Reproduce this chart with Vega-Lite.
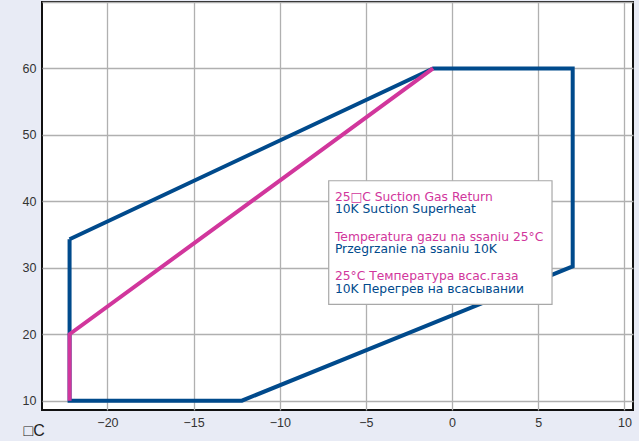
{
  "$schema": "https://vega.github.io/schema/vega-lite/v6.json",
  "width": 591,
  "height": 408,
  "autosize": "none",
  "padding": {"left": 42, "top": 2, "right": 6, "bottom": 31},
  "background": "#e8ebf5",
  "config": {
    "view": {"stroke": "#111111", "strokeWidth": 2, "fill": "white"},
    "axis": {
      "labelFont": "Liberation Sans",
      "labelFontSize": 12.5,
      "labelColor": "#333333",
      "gridColor": "#b0b0b0",
      "gridWidth": 1.3,
      "gridOpacity": 1,
      "domain": false,
      "ticks": false,
      "labelPadding": 6
    }
  },
  "datasets": {
    "envelope": [
      {"series": "superheat", "order": 1, "t": -22.2, "p": 34.3},
      {"series": "superheat", "order": 2, "t": -22.2, "p": 10},
      {"series": "superheat", "order": 3, "t": -12.2, "p": 10},
      {"series": "superheat", "order": 4, "t": 7.0, "p": 30.2},
      {"series": "superheat", "order": 5, "t": 7.0, "p": 60},
      {"series": "superheat", "order": 6, "t": -1.1, "p": 60},
      {"series": "superheat", "order": 7, "t": -22.2, "p": 34.3},
      {"series": "gasreturn", "order": 1, "t": -22.2, "p": 10},
      {"series": "gasreturn", "order": 2, "t": -22.2, "p": 20},
      {"series": "gasreturn", "order": 3, "t": -1.1, "p": 60}
    ],
    "box": [
      {"t1": -7.16, "t2": 5.8, "p1": 43.1, "p2": 24.5}
    ],
    "notes": [
      {"series": "gasreturn", "t": -6.8, "p": 40.68, "label": "25□C Suction Gas Return"},
      {"series": "superheat", "t": -6.8, "p": 38.78, "label": "10K Suction Superheat"},
      {"series": "gasreturn", "t": -6.8, "p": 34.67, "label": "Temperatura gazu na ssaniu 25°C"},
      {"series": "superheat", "t": -6.8, "p": 32.78, "label": "Przegrzanie na ssaniu 10K"},
      {"series": "gasreturn", "t": -6.8, "p": 28.81, "label": "25°C Температура всас.газа"},
      {"series": "superheat", "t": -6.8, "p": 26.82, "label": "10K Перегрев на всасывании"}
    ]
  },
  "layer": [
    {
      "data": {"name": "envelope"},
      "mark": {"type": "line", "strokeWidth": 4, "strokeJoin": "miter", "strokeCap": "butt"},
      "encoding": {
        "x": {
          "field": "t", "type": "quantitative",
          "scale": {"domain": [-23.8, 10.5], "nice": false, "zero": false},
          "axis": {
            "values": [-20, -15, -10, -5, 0, 5, 10],
            "title": "□C",
            "titleFont": "Liberation Sans",
            "titleFontSize": 16,
            "titleFontWeight": "normal",
            "titleColor": "#222222",
            "titleAnchor": "start",
            "titleAlign": "left",
            "titleX": -19,
            "titleY": 20,
            "titleBaseline": "middle"
          }
        },
        "y": {
          "field": "p", "type": "quantitative",
          "scale": {"domain": [8.6, 70], "nice": false, "zero": false},
          "axis": {"values": [10, 20, 30, 40, 50, 60, 70], "labelExpr": "datum.value == 70 ? '' : datum.label", "title": null}
        },
        "color": {
          "field": "series", "type": "nominal",
          "scale": {"domain": ["superheat", "gasreturn"], "range": ["#004a8c", "#d1369c"]},
          "legend": null
        },
        "order": {"field": "order", "type": "quantitative"},
        "detail": {"field": "series"}
      }
    },
    {
      "data": {"name": "box"},
      "mark": {"type": "rect", "fill": "white", "stroke": "#a8a8a8", "strokeWidth": 1.2},
      "encoding": {
        "x": {"field": "t1", "type": "quantitative"},
        "x2": {"field": "t2"},
        "y": {"field": "p1", "type": "quantitative"},
        "y2": {"field": "p2"}
      }
    },
    {
      "data": {"name": "notes"},
      "mark": {"type": "text", "align": "left", "baseline": "middle", "font": "DejaVu Sans", "fontSize": 12.3},
      "encoding": {
        "x": {"field": "t", "type": "quantitative"},
        "y": {"field": "p", "type": "quantitative"},
        "text": {"field": "label"},
        "color": {"field": "series", "type": "nominal", "legend": null}
      }
    }
  ]
}
